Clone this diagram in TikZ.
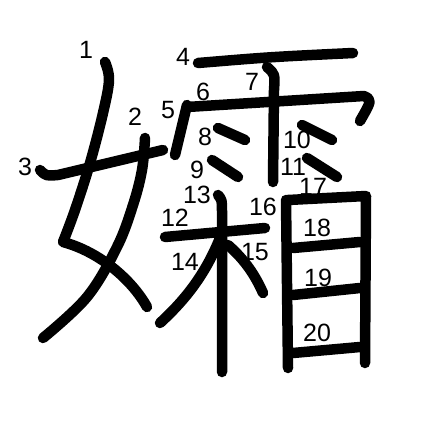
\documentclass[tikz,border=0pt]{standalone}
\usepackage{fontspec}
\setmainfont{Liberation Sans}
\usetikzlibrary{positioning}

\begin{document}
\begin{tikzpicture}[
  x=1pt, y=-1pt,
  kaku/.style={line width=10.5pt, line cap=round, line join=round},
  num/.style={inner sep=0pt, font=\fontsize{25}{25}\selectfont}
]
\useasboundingbox (0,0) rectangle (447,447);

% Left part
\draw[kaku] plot[smooth, tension=0.6] coordinates {(105,62) (109,80) (103,113) (90,163) (75,210) (63,242)}
  .. controls (100,252) and (132,280) .. (147,307);
\draw[kaku] plot[smooth, tension=0.6] coordinates {(145,138) (142,170) (133,205) (117,247) (87,297) (43,338)};
\draw[kaku] (40,170) .. controls (46,176) .. (58,175) -- (163,150);

% Rain radical
\draw[kaku] (198,63) .. controls (270,57) .. (353,53);
\draw[kaku] (187,105) -- (175,155);
\draw[kaku] (187,107) -- (300,100) -- (364,96) .. controls (372,100) .. (360,121);
\draw[kaku] (267,67) .. controls (275,74) .. (274,90) -- (273,182);
\draw[kaku] (218,128) -- (245,140);
\draw[kaku] (212,160) -- (238,177);
\draw[kaku] (302,125) -- (332,140);
\draw[kaku] (307,158) -- (337,177);

% Tree
\draw[kaku] (165,237) -- (265,228);
\draw[kaku] (218,195) .. controls (222,200) .. (222,212) -- (222,372);
\draw[kaku] (220,238) .. controls (205,275) and (185,300) .. (160,323);
\draw[kaku] (228,245) .. controls (245,260) and (255,275) .. (263,293);

% Eye
\draw[kaku] (286,200) -- (288,368);
\draw[kaku] (288,200) -- (366,196) -- (365,363);
\draw[kaku] (293,248) -- (360,242);
\draw[kaku] (293,295) -- (360,288);
\draw[kaku] (293,353) -- (360,347);

% Stroke numbers
\foreach \n/\x/\y in {1/86/50, 2/135/117, 3/25/167, 4/183/57, 5/168/110,
  6/203/92, 7/252/82, 8/205/137, 9/197/170, 10/297/140, 11/293/167,
  12/175/218, 13/197/195, 14/185/262, 15/255/252, 16/263/207,
  17/313/187, 18/317/228, 19/318/278, 20/317/333} {
  \node[num] (n\n) at (\x,\y) {\n};
}

\end{tikzpicture}
\end{document}
